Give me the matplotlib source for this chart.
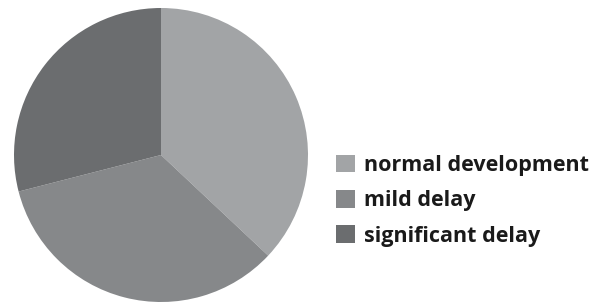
import matplotlib
matplotlib.use('Agg')
import matplotlib.pyplot as plt

labels = ['normal development', 'mild delay', 'significant delay']
shares = [37, 34, 29]
colors = ['#a2a4a6', '#86888a', '#6b6d6f']

fig = plt.figure(figsize=(6.03, 3.02), dpi=100)
fig.patch.set_facecolor('white')

ax = fig.add_axes([14 / 603, 0.0, 294 / 603, 294 / 302])
wedges, _ = ax.pie(shares, colors=colors, startangle=90, counterclock=False,
                   wedgeprops=dict(linewidth=0))
ax.set_xlim(-1, 1)
ax.set_ylim(-1, 1)
ax.set_aspect('equal')

leg = fig.legend(wedges, labels, loc='upper left', bbox_to_anchor=(327 / 603, 1 - 146 / 302),
                 frameon=False, handlelength=0.88, handleheight=0.88, handletextpad=0.45,
                 labelspacing=0.66, borderaxespad=0,
                 prop=dict(family='Open Sans', weight='bold', size=15.5))
for t in leg.get_texts():
    t.set_color('#1a1a1a')

fig.savefig('out.png', dpi=100)
